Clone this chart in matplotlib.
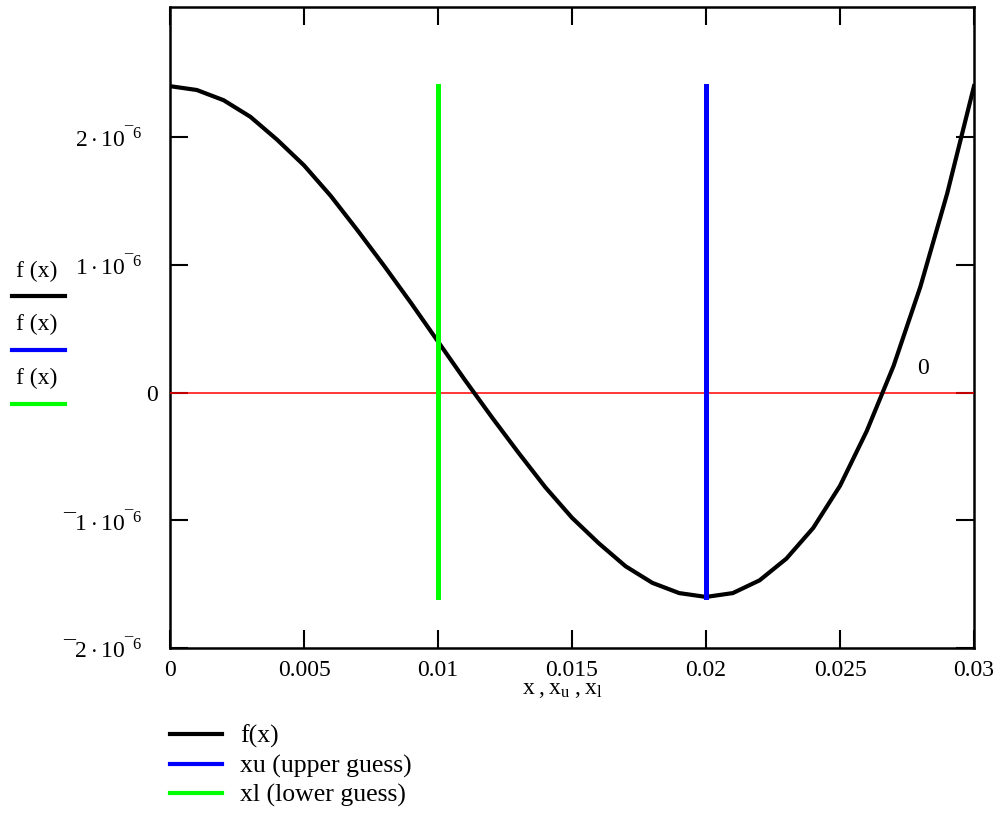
import matplotlib
matplotlib.use("Agg")
import matplotlib.pyplot as plt
from matplotlib.lines import Line2D
import matplotlib.transforms as mtransforms

plt.rcParams['font.family'] = ['Liberation Serif', 'DejaVu Serif']
plt.rcParams['mathtext.fontset'] = 'custom'
plt.rcParams['mathtext.rm'] = 'Liberation Serif'
plt.rcParams['mathtext.it'] = 'Liberation Serif'

# ---- data ----
x_vals = [0.000, 0.001, 0.002, 0.003, 0.004, 0.005, 0.006, 0.007, 0.008, 0.009,
          0.010, 0.011, 0.012, 0.013, 0.014, 0.015, 0.016, 0.017, 0.018, 0.019,
          0.020, 0.021, 0.022, 0.023, 0.024, 0.025, 0.026, 0.027, 0.028, 0.029,
          0.030]
f_vals_e6 = [2.40, 2.37, 2.29, 2.16, 1.98, 1.78, 1.54, 1.27, 0.99, 0.70,
             0.40, 0.10, -0.19, -0.47, -0.74, -0.98, -1.18, -1.36, -1.49, -1.57,
             -1.60, -1.57, -1.47, -1.30, -1.06, -0.73, -0.30, 0.21, 0.83, 1.56,
             2.40]
f_vals = [v * 1e-6 for v in f_vals_e6]

xu = 0.02          # upper guess
xl = 0.01          # lower guess
guess_range = [-1.60e-6, 2.40e-6]   # vertical extent of the guess lines
marker_y = 0.0

x_ticks = [0, 0.005, 0.01, 0.015, 0.02, 0.025, 0.03]
x_tick_labels = ['0', '0.005', '0.01', '0.015', '0.02', '0.025', '0.03']
y_ticks = [-2e-6, -1e-6, 0, 1e-6, 2e-6]
y_tick_labels = [r'$\mathrm{¯2\cdot10^{¯6}}$', r'$\mathrm{¯1\cdot10^{¯6}}$', '0',
                 r'$\mathrm{1\cdot10^{¯6}}$', r'$\mathrm{2\cdot10^{¯6}}$']

c_black = '#000000'
c_blue = '#0000FF'
c_green = '#00FF00'
c_red = '#FF0000'

W, H = 1005, 816
fig = plt.figure(figsize=(W / 100, H / 100), dpi=100)
ax = fig.add_axes([170 / W, 1 - 648 / H, (974 - 170) / W, (648 - 7) / H])

ax.axhline(marker_y, color=c_red, lw=1.1, zorder=2.6)
ax.plot(x_vals, f_vals, color=c_black, lw=3.0, zorder=3)
ax.plot([xu, xu], guess_range, color=c_blue, lw=3.6, zorder=4)
ax.plot([xl, xl], guess_range, color=c_green, lw=3.6, zorder=4)

ax.set_xlim(0, 0.03)
ax.set_ylim(-2e-6, 3.02e-6)
ax.set_xticks(x_ticks)
ax.set_xticklabels(x_tick_labels)
ax.set_yticks(y_ticks)
ax.set_yticklabels(y_tick_labels)
ax.tick_params(direction='in', length=13, width=1.5, labelsize=17,
               top=True, right=True, colors='black')
ax.tick_params(axis='x', pad=9)
ax.tick_params(axis='y', pad=20)
for s in ax.spines.values():
    s.set_linewidth(1.8)

# the plain "0" label sits closer to the axis
for lab in ax.get_yticklabels():
    if lab.get_text() == '0':
        lab.set_transform(lab.get_transform() +
                          mtransforms.ScaledTranslation(0.16, 0, fig.dpi_scale_trans))

# marker label
ax.text(0.0281, 0.19e-6, '0', fontsize=17, ha='center', va='center')

# x-axis label
fig.text(562 / W, 1 - 690 / H, r'$\mathrm{x\;,x_u\;,x_l}$', fontsize=17,
         ha='center', va='center')

# left-side trace labels
left_items = [(271, 296, c_black), (324, 350, c_blue), (378, 404, c_green)]
for ty, ly, col in left_items:
    fig.text(37 / W, 1 - ty / H, 'f (x)', fontsize=17, ha='center', va='center')
    fig.add_artist(Line2D([12 / W, 65 / W], [1 - ly / H, 1 - ly / H],
                          color=col, lw=3.0, transform=fig.transFigure))

# bottom legend
legend_items = [('f(x)', c_black, 734), ('xu (upper guess)', c_blue, 764),
                ('xl (lower guess)', c_green, 793)]
for lab, col, ly in legend_items:
    fig.add_artist(Line2D([170 / W, 222 / W], [1 - ly / H, 1 - ly / H],
                          color=col, lw=3.0, transform=fig.transFigure))
    fig.text(240 / W, 1 - (ly + 2) / H, lab, fontsize=18.5, ha='left', va='center')

fig.savefig('out.png', dpi=100)
